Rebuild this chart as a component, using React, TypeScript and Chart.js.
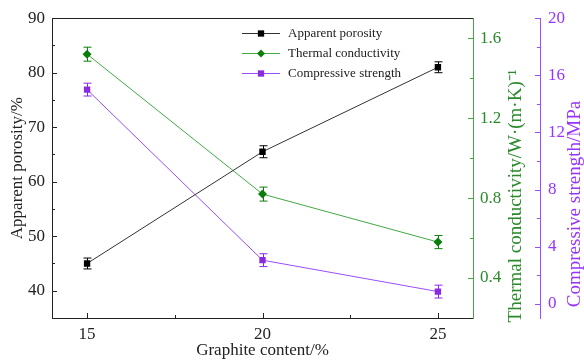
import { useEffect, useRef } from "react";
import { Chart, registerables } from "chart.js";

Chart.register(...registerables);

const graphiteContent = [15, 20, 25];
const porosity = [45.0, 65.5, 81.0];
const porosityErr = [1.0, 1.1, 1.0];
const conductivity = [1.52, 0.82, 0.58];
const conductivityErr = [0.035, 0.035, 0.033];
const strength = [15.0, 3.05, 0.85];
const strengthErr = [0.45, 0.45, 0.45];

const xMajor = [15, 20, 25];
const xMinor = [17.5, 22.5];
const porMajor = [40, 50, 60, 70, 80, 90];
const porMinor = [45, 55, 65, 75, 85];
const condMajor = [0.4, 0.8, 1.2, 1.6];
const condMinor = [0.6, 1.0, 1.4];
const strMajor = [0, 4, 8, 12, 16, 20];
const strMinor = [2, 6, 10, 14, 18];

const seriesLabels = ["Apparent porosity", "Thermal conductivity", "Compressive strength"];

const FONT = "'Liberation Serif', 'Times New Roman', serif";
const BLACK = "#222222";
const GREEN_LINE = "#43a843";
const GREEN_MARK = "#0b7d0b";
const GREEN_TEXT = "#2a8a2a";
const PURPLE_LINE = "#9a4dff";
const PURPLE_MARK = "#8a2be2";
const PURPLE_TEXT = "#9933ff";

const errorsByDataset = [porosityErr, conductivityErr, strengthErr];

function drawMarker(ctx: CanvasRenderingContext2D, style: string, x: number, y: number, r: number, color: string) {
  ctx.save();
  ctx.fillStyle = color;
  ctx.beginPath();
  if (style === "rectRot") {
    ctx.moveTo(x, y - r);
    ctx.lineTo(x + r, y);
    ctx.lineTo(x, y + r);
    ctx.lineTo(x - r, y);
    ctx.closePath();
  } else {
    ctx.rect(x - r * 0.75, y - r * 0.75, r * 1.5, r * 1.5);
  }
  ctx.fill();
  ctx.restore();
}

const decorPlugin = {
  id: "decor",
  afterDatasetsDraw(chart: any) {
    const ctx: CanvasRenderingContext2D = chart.ctx;
    chart.data.datasets.forEach((ds: any, i: number) => {
      const errs = errorsByDataset[i];
      const xs = chart.scales.x;
      const ys = chart.scales[ds.yAxisID];
      ctx.save();
      ctx.strokeStyle = ds.pointBackgroundColor;
      ctx.lineWidth = 1;
      ds.data.forEach((p: any, j: number) => {
        const px = Math.round(xs.getPixelForValue(p.x)) + 0.5;
        const top = ys.getPixelForValue(p.y + errs[j]);
        const bot = ys.getPixelForValue(p.y - errs[j]);
        ctx.beginPath();
        ctx.moveTo(px, top);
        ctx.lineTo(px, bot);
        ctx.moveTo(px - 4, top);
        ctx.lineTo(px + 4, top);
        ctx.moveTo(px - 4, bot);
        ctx.lineTo(px + 4, bot);
        ctx.stroke();
      });
      ctx.restore();
    });
  },
  afterDraw(chart: any) {
    const ctx: CanvasRenderingContext2D = chart.ctx;
    const area = chart.chartArea;
    const { x, yPor, yCond, yStr } = chart.scales;
    ctx.save();
    ctx.lineWidth = 1;
    ctx.strokeStyle = BLACK;
    ctx.beginPath();
    ctx.moveTo(area.left, Math.round(area.top) + 0.5);
    ctx.lineTo(area.right, Math.round(area.top) + 0.5);
    ctx.stroke();

    const vTicks = (scale: any, vals: number[], axisX: number, len: number, dir: number, color: string) => {
      ctx.strokeStyle = color;
      ctx.beginPath();
      vals.forEach((v) => {
        const py = Math.round(scale.getPixelForValue(v)) + 0.5;
        ctx.moveTo(axisX, py);
        ctx.lineTo(axisX + dir * len, py);
      });
      ctx.stroke();
    };
    ctx.strokeStyle = BLACK;
    ctx.beginPath();
    xMajor.forEach((v) => {
      const px = Math.round(x.getPixelForValue(v)) + 0.5;
      ctx.moveTo(px, area.bottom);
      ctx.lineTo(px, area.bottom - 5);
    });
    xMinor.forEach((v) => {
      const px = Math.round(x.getPixelForValue(v)) + 0.5;
      ctx.moveTo(px, area.bottom);
      ctx.lineTo(px, area.bottom - 3);
    });
    ctx.stroke();
    vTicks(yPor, porMajor, area.left, 5, 1, BLACK);
    vTicks(yPor, porMinor, area.left, 3, 1, BLACK);
    vTicks(yCond, condMajor, area.right, 5, -1, GREEN_LINE);
    vTicks(yCond, condMinor, area.right, 3, -1, GREEN_LINE);
    vTicks(yStr, strMajor, yStr.left, 5, -1, PURPLE_LINE);
    vTicks(yStr, strMinor, yStr.left, 3, -1, PURPLE_LINE);

    const vTitle = (text: string, cx: number, cy: number, color: string) => {
      ctx.save();
      ctx.translate(cx, cy);
      ctx.rotate(-Math.PI / 2);
      ctx.fillStyle = color;
      ctx.font = `19px ${FONT}`;
      ctx.textAlign = "center";
      ctx.textBaseline = "middle";
      ctx.fillText(text, 0, 0);
      ctx.restore();
    };
    vTitle("Thermal conductivity/W·(m·K)⁻¹", 516, 196, GREEN_TEXT);
    vTitle("Compressive strength/MPa", 575, 204, PURPLE_TEXT);

    chart.data.datasets.forEach((ds: any, i: number) => {
      const ly = 33.5 + i * 20;
      ctx.strokeStyle = ds.borderColor;
      ctx.beginPath();
      ctx.moveTo(242, ly);
      ctx.lineTo(280, ly);
      ctx.stroke();
      drawMarker(ctx, ds.pointStyle, 261, ly, ds.pointStyle === "rectRot" ? 4 : 4.2, ds.pointBackgroundColor);
      ctx.fillStyle = BLACK;
      ctx.font = `13px ${FONT}`;
      ctx.textAlign = "left";
      ctx.textBaseline = "middle";
      ctx.fillText(ds.label, 288, ly);
    });
    ctx.restore();
  },
};

function pts(ys: number[]) {
  return graphiteContent.map((x, i) => ({ x, y: ys[i] }));
}

export default function App() {
  const ref = useRef<HTMLCanvasElement | null>(null);
  useEffect(() => {
    document.body.style.margin = "0";
    const canvas = ref.current;
    if (!canvas) return;
    const tickFont = { family: FONT, size: 17 };
    const chart = new Chart(canvas, {
      type: "line",
      data: {
        datasets: [
          {
            label: seriesLabels[0],
            data: pts(porosity),
            yAxisID: "yPor",
            borderColor: "#333333",
            borderWidth: 1,
            pointStyle: "rect",
            pointRadius: 4.5,
            pointBackgroundColor: "#000000",
            pointBorderWidth: 0,
          },
          {
            label: seriesLabels[1],
            data: pts(conductivity),
            yAxisID: "yCond",
            borderColor: GREEN_LINE,
            borderWidth: 1,
            pointStyle: "rectRot",
            pointRadius: 4.5,
            pointBackgroundColor: GREEN_MARK,
            pointBorderWidth: 0,
          },
          {
            label: seriesLabels[2],
            data: pts(strength),
            yAxisID: "yStr",
            borderColor: PURPLE_LINE,
            borderWidth: 1,
            pointStyle: "rect",
            pointRadius: 4.5,
            pointBackgroundColor: PURPLE_MARK,
            pointBorderWidth: 0,
          },
        ] as any,
      },
      options: {
        animation: false,
        responsive: false,
        devicePixelRatio: 1,
        layout: { padding: { top: 15, left: 0, right: 0, bottom: 0 } },
        plugins: { legend: { display: false }, tooltip: { enabled: false } },
        scales: {
          x: {
            type: "linear",
            min: 14,
            max: 26,
            afterBuildTicks: (s: any) => {
              s.ticks = xMajor.map((v) => ({ value: v }));
            },
            afterFit: (s: any) => {
              s.height = 43;
            },
            grid: { display: false, drawTicks: false },
            border: { display: true, color: BLACK, width: 1 },
            ticks: { font: tickFont, color: BLACK, padding: 6, maxRotation: 0 },
            title: {
              display: true,
              text: "Graphite content/%",
              font: tickFont,
              color: BLACK,
              padding: { top: 0, bottom: 0 },
            },
          },
          yPor: {
            type: "linear",
            position: "left",
            min: 35,
            max: 90,
            afterBuildTicks: (s: any) => {
              s.ticks = porMajor.map((v) => ({ value: v }));
            },
            afterFit: (s: any) => {
              s.width = 52;
            },
            grid: { display: false, drawTicks: false },
            border: { display: true, color: BLACK, width: 1 },
            ticks: { font: tickFont, color: BLACK, padding: 7 },
            title: {
              display: true,
              text: "Apparent porosity/%",
              font: tickFont,
              color: BLACK,
              padding: { top: 7, bottom: 0 },
            },
          },
          yCond: {
            type: "linear",
            position: "right",
            weight: 0,
            min: 0.2,
            max: 1.7,
            afterBuildTicks: (s: any) => {
              s.ticks = condMajor.map((v) => ({ value: v }));
            },
            afterFit: (s: any) => {
              s.width = 67;
            },
            grid: { display: false, drawTicks: false },
            border: { display: true, color: GREEN_LINE, width: 1 },
            ticks: {
              font: tickFont,
              color: GREEN_TEXT,
              padding: 7,
              callback: (v: any) => Number(v).toFixed(1),
            },
          },
          yStr: {
            type: "linear",
            position: "right",
            weight: 1,
            min: -1,
            max: 20,
            afterBuildTicks: (s: any) => {
              s.ticks = strMajor.map((v) => ({ value: v }));
            },
            afterFit: (s: any) => {
              s.width = 44;
            },
            grid: { display: false, drawTicks: false },
            border: { display: true, color: PURPLE_LINE, width: 1 },
            ticks: { font: tickFont, color: PURPLE_TEXT, padding: 8 },
          },
        },
      } as any,
      plugins: [decorPlugin],
    });
    return () => chart.destroy();
  }, []);
  return (
    <div style={{ width: 584, height: 361, background: "#ffffff" }}>
      <canvas ref={ref} width={584} height={361} style={{ display: "block" }} />
    </div>
  );
}
